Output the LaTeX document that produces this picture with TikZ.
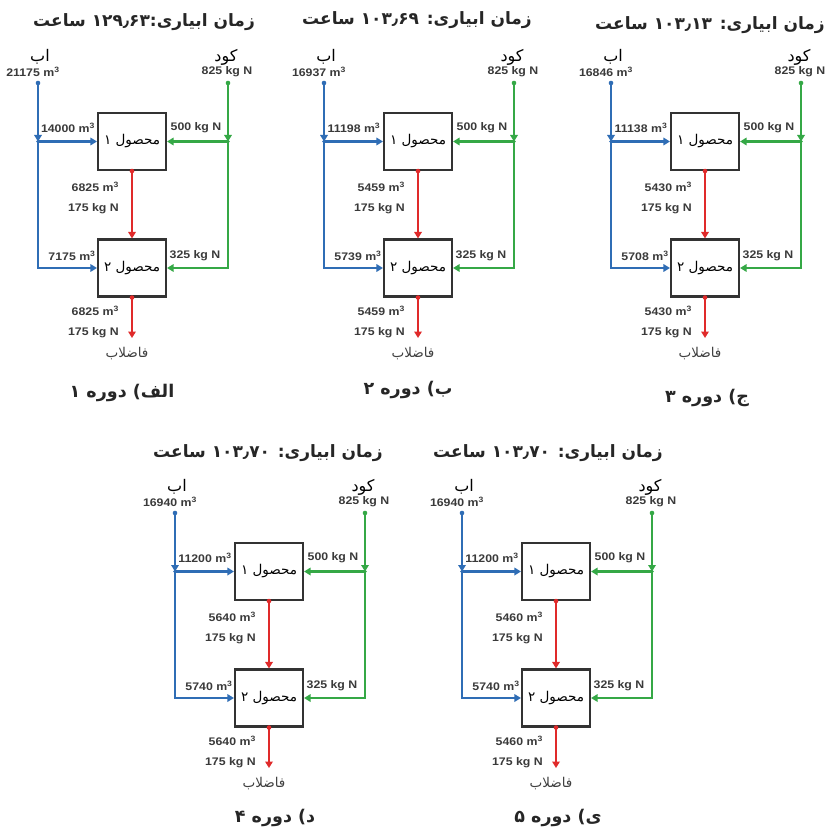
\documentclass[tikz,border=0pt]{standalone}
\usepackage{fontspec}
\usetikzlibrary{arrows.meta}
\TeXXeTstate=1
\setmainfont{Liberation Sans}
\newfontfamily\fa[Script=Arabic]{DejaVu Sans}
\newfontfamily\numf[FakeStretch=1.12]{Liberation Sans}

\definecolor{wblue}{HTML}{2F6DB5}
\definecolor{ngreen}{HTML}{35A846}
\definecolor{rred}{HTML}{E02A2A}
\definecolor{boxgray}{HTML}{333333}
\definecolor{txt}{HTML}{3A3A3A}

\newcommand\cubm{m\textsuperscript{3}}

\tikzset{
  flow/.style={line width=2.4pt},
  water/.style={flow, draw=wblue},
  nitro/.style={flow, draw=ngreen},
  waste/.style={flow, draw=rred},
  tip/.style={-{Triangle[length=6.5pt,width=7.5pt]}},
  crop/.style={draw=boxgray, line width=2.1pt, minimum width=68pt, minimum height=57pt,
    inner sep=0pt, font=\fa\fontsize{13.5}{15}\selectfont, text=black},
  qty/.style={font=\numf\bfseries\fontsize{11}{12}\selectfont, text=txt, inner sep=0pt},
  src/.style={font=\fa\fontsize{16}{18}\selectfont, text=black, inner sep=0pt},
  drain/.style={font=\fa\fontsize{13.5}{15}\selectfont, text=black!75, inner sep=0pt},
  ttl/.style={font=\fa\bfseries\fontsize{17}{20}\selectfont, text=black!85, inner sep=0pt},
  periodcap/.style={font=\fa\bfseries\fontsize{17.5}{21}\selectfont, text=black!85, inner sep=0pt},
}

% one irrigation period: #1 name prefix, #2/#3 offset, #4 water supplied,
% #5 water to crop 1, #6 outflow of crop 1 (and drainage), #7 water to crop 2
\newcommand\flowpanel[7]{%
\begin{scope}[shift={(#2,#3)}]
  \node[crop] (#1c1) at (94,141.5) {\beginR محصول ۱\endR};
  \node[crop] (#1c2) at (94,268) {\beginR محصول ۲\endR};
  \coordinate (#1wt) at (0,83);
  \coordinate (#1wj) at (0,141.5);
  \coordinate (#1wb) at (0,268);
  \coordinate (#1nt) at (190,83);
  \coordinate (#1nj) at (190,141.5);
  \coordinate (#1nb) at (190,268);
  \coordinate (#1out) at (94,338);
  % water supply
  \draw[water,tip] (#1wt) -- (#1wj);
  \draw[water,tip] (#1wj) -- (#1wb) -- (#1c2.west);
  \draw[water,tip] (#1wj) -- (#1c1.west);
  \fill[wblue] (#1wt) circle (2.3);
  \fill[wblue] (#1wj) circle (1.8);
  % fertiliser supply
  \draw[nitro,tip] (#1nt) -- (#1nj);
  \draw[nitro,tip] (#1nj) -- (#1nb) -- (#1c2.east);
  \draw[nitro,tip] (#1nj) -- (#1c1.east);
  \fill[ngreen] (#1nt) circle (2.3);
  \fill[ngreen] (#1nj) circle (1.8);
  % outflow
  \draw[waste,tip] (#1c1.south) -- (#1c2.north);
  \draw[waste,tip] (#1c2.south) -- (#1out);
  \fill[rred] (#1c1.south) circle (2.3);
  \fill[rred] (#1c2.south) circle (2.3);
  % labels
  \node[src] (#1lw) at (2,57) {\beginR اب\endR};
  \node[qty] (#1qw) at (-5,72) {#4 \cubm};
  \node[src] (#1ln) at (188,57) {\beginR کود\endR};
  \node[qty] (#1qn) at (189,72) {825 kg N};
  \node[qty] (#1qw1) at (30,128) {#5 \cubm};
  \node[qty] (#1qn1) at (158,128) {500 kg N};
  \node[qty,anchor=east] (#1qr1) at (81,187) {#6 \cubm};
  \node[qty,anchor=east] (#1qr1n) at (81,209) {175 kg N};
  \node[qty] (#1qw2) at (34,256) {#7 \cubm};
  \node[qty] (#1qn2) at (157,256) {325 kg N};
  \node[qty,anchor=east] (#1qr2) at (81,311) {#6 \cubm};
  \node[qty,anchor=east] (#1qr2n) at (81,333) {175 kg N};
  \node[drain] (#1ld) at (89,354) {\beginR فاضلاب\endR};
\end{scope}}

\begin{document}
\begin{tikzpicture}[x=1pt,y=-1pt]
  \fill[white] (0,0) rectangle (828,834);
  \useasboundingbox (0,0) rectangle (828,834);

  \flowpanel{pa}{38}{0}{21175}{14000}{6825}{7175}
  \flowpanel{pb}{324}{0}{16937}{11198}{5459}{5739}
  \flowpanel{pc}{611}{0}{16846}{11138}{5430}{5708}
  \flowpanel{pd}{175}{430}{16940}{11200}{5640}{5740}
  \flowpanel{pe}{462}{430}{16940}{11200}{5460}{5740}

  % irrigation times
  \node[ttl] (ta) at (144,22) {\beginR زمان ابیاری:\beginL۱۲۹٫۶۳\endL{} ساعت\endR};
  \node[ttl] (tb) at (417,20) {\beginR زمان ابیاری: \beginL۱۰۳٫۶۹\endL{} ساعت\endR};
  \node[ttl] (tc) at (710,25) {\beginR زمان ابیاری: \beginL۱۰۳٫۱۳\endL{} ساعت\endR};
  \node[ttl] (td) at (268,453) {\beginR زمان ابیاری: \beginL۱۰۳٫۷۰\endL{} ساعت\endR};
  \node[ttl] (te) at (548,453) {\beginR زمان ابیاری: \beginL۱۰۳٫۷۰\endL{} ساعت\endR};

  % period captions
  \node[periodcap] (ca) at (122,393) {\beginR الف) دوره ۱\endR};
  \node[periodcap] (cb) at (408,390) {\beginR ب) دوره ۲\endR};
  \node[periodcap] (cc) at (707,398) {\beginR ج) دوره ۳\endR};
  \node[periodcap] (cd) at (275,818) {\beginR د) دوره ۴\endR};
  \node[periodcap] (ce) at (558,818) {\beginR ی) دوره ۵\endR};
\end{tikzpicture}
\end{document}
